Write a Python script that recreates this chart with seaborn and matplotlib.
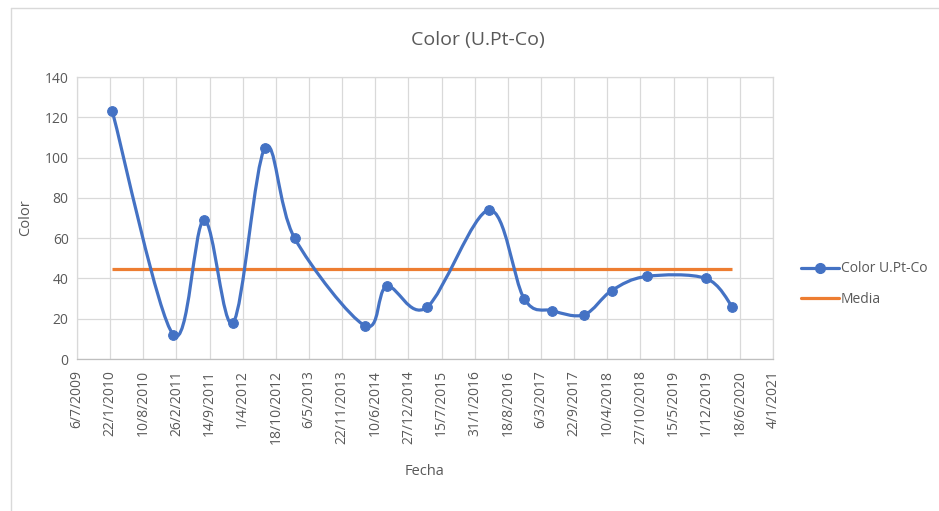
import numpy as np
import pandas as pd
import matplotlib
matplotlib.use("Agg")
import matplotlib.pyplot as plt
import matplotlib.dates as mdates
from matplotlib.path import Path
from matplotlib.patches import PathPatch
from matplotlib.lines import Line2D
import seaborn as sns

# ---- data ----
fechas = ["2010-02-04", "2011-02-07", "2011-08-11", "2012-02-03", "2012-08-14",
          "2013-02-08", "2014-04-09", "2014-08-18", "2015-04-16", "2016-04-27",
          "2016-11-24", "2017-05-13", "2017-11-22", "2018-05-07", "2018-12-03",
          "2019-11-26", "2020-05-03"]
color_vals = [123, 12, 69, 18, 105, 60, 16.5, 36, 25.6, 74, 30, 24, 22, 34, 41, 40, 26]
tick_dates = ["2009-07-06", "2010-01-22", "2010-08-10", "2011-02-26", "2011-09-14",
              "2012-04-01", "2012-10-18", "2013-05-06", "2013-11-22", "2014-06-10",
              "2014-12-27", "2015-07-15", "2016-01-31", "2016-08-18", "2017-03-06",
              "2017-09-22", "2018-04-10", "2018-10-27", "2019-05-15", "2019-12-01",
              "2020-06-18", "2021-01-04"]
y_ticks = [0, 20, 40, 60, 80, 100, 120, 140]

df = pd.DataFrame({"Fecha": pd.to_datetime(fechas), "Color": color_vals})
media = float(np.mean(color_vals))

BLUE = "#4472C4"
ORANGE = "#ED7D31"
TXT = "#595959"
GRID = "#D9D9D9"

sns.set_theme(style="white")
plt.rcParams["font.family"] = ["Open Sans", "DejaVu Sans"]

fig = plt.figure(figsize=(9.39, 5.11), dpi=100)
ax = fig.add_axes([77/939, 1-359/511, (773-77)/939, (359-77)/511])

# markers via seaborn
sns.lineplot(data=df, x="Fecha", y="Color", ax=ax, linestyle="none",
             marker="o", markersize=7, color=BLUE, markeredgecolor=BLUE, zorder=4)

# smoothed line (Excel-style Catmull-Rom Bezier through data points)
xs = mdates.date2num(df["Fecha"].dt.to_pydatetime())
ys = np.asarray(color_vals, dtype=float)
n = len(xs)
verts = [(xs[0], ys[0])]
codes = [Path.MOVETO]
for i in range(n - 1):
    p0 = (xs[max(i-1, 0)], ys[max(i-1, 0)])
    p1 = (xs[i], ys[i])
    p2 = (xs[i+1], ys[i+1])
    p3 = (xs[min(i+2, n-1)], ys[min(i+2, n-1)])
    c1 = (p1[0] + (p2[0]-p0[0])/6, p1[1] + (p2[1]-p0[1])/6)
    c2 = (p2[0] - (p3[0]-p1[0])/6, p2[1] - (p3[1]-p1[1])/6)
    verts += [c1, c2, p2]
    codes += [Path.CURVE4]*3
ax.add_patch(PathPatch(Path(verts, codes), facecolor="none", edgecolor=BLUE,
                       lw=2.3, zorder=3, capstyle="round", joinstyle="round"))

# media line
ax.plot([df["Fecha"].iloc[0], df["Fecha"].iloc[-1]], [media, media],
        color=ORANGE, lw=2.3, zorder=2, solid_capstyle="butt")

# axes
tk = pd.to_datetime(tick_dates)
ax.set_xlim(tk[0], tk[-1])
ax.set_ylim(0, 140)
ax.set_xticks(tk)
ax.set_xticklabels([f"{d.day}/{d.month}/{d.year}" for d in tk], rotation=90,
                   fontsize=10, color=TXT)
ax.set_yticks(y_ticks)
ax.set_yticklabels([str(v) for v in y_ticks], fontsize=10, color=TXT)
ax.tick_params(axis="both", length=0, pad=6)
ax.tick_params(axis="x", pad=8)
ax.grid(True, color=GRID, lw=0.9)
ax.set_axisbelow(True)
for s in ax.spines.values():
    s.set_color(GRID)
    s.set_linewidth(0.9)
ax.spines["bottom"].set_color("#BFBFBF")

ax.set_xlabel("Fecha", fontsize=10.5, color=TXT, labelpad=14)
ax.set_ylabel("Color", fontsize=10.5, color=TXT, labelpad=8)
fig.text(478/939, 1-40/511, "Color (U.Pt-Co)", ha="center", va="center",
         fontsize=14, color=TXT)

handles = [Line2D([], [], color=BLUE, lw=2.3, marker="o", markersize=7),
           Line2D([], [], color=ORANGE, lw=2.3)]
fig.legend(handles, ["Color U.Pt-Co", "Media"], loc="center left",
           bbox_to_anchor=(788/939, 1-284/511), frameon=False, fontsize=10,
           labelcolor=TXT, handlelength=2.8, handletextpad=0.1, labelspacing=1.1)

# chart-area border (partially visible)
fig.add_artist(Line2D([11/939, 11/939], [0, 1-8/511], transform=fig.transFigure,
                      color=GRID, lw=1))
fig.add_artist(Line2D([11/939, 1], [1-8/511, 1-8/511], transform=fig.transFigure,
                      color=GRID, lw=1))

fig.savefig("out.png", dpi=100, facecolor="white")
